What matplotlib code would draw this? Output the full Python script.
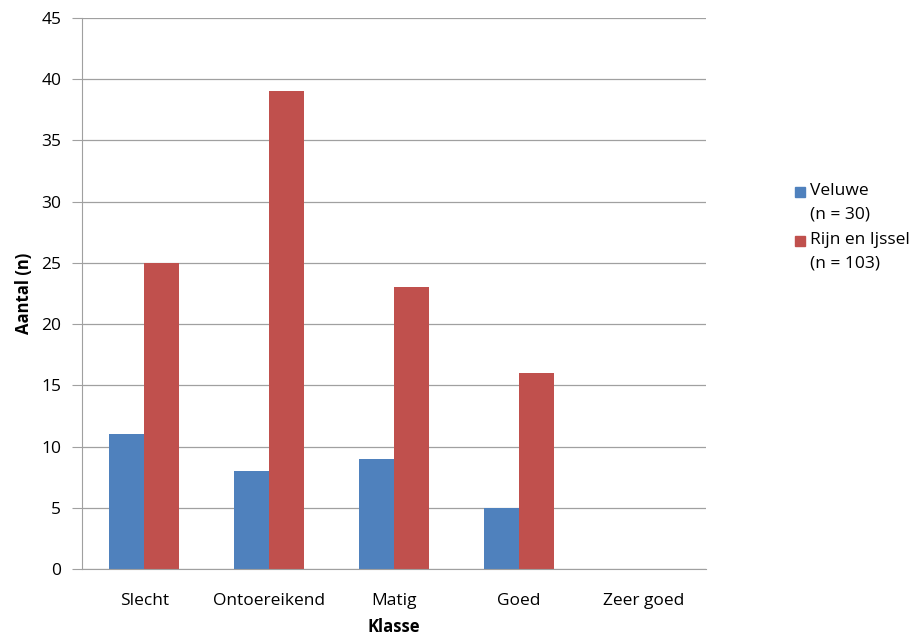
import matplotlib
matplotlib.use("Agg")
import matplotlib.pyplot as plt
from matplotlib.patches import Rectangle
import numpy as np

categories = ["Slecht", "Ontoereikend", "Matig", "Goed", "Zeer goed"]
veluwe = [11, 8, 9, 5, 0]
rijn_ijssel = [25, 39, 23, 16, 0]
series_labels = ["Veluwe\n(n = 30)", "Rijn en Ijssel\n(n = 103)"]
colors = ["#4F81BD", "#C0504D"]

plt.rcParams["font.family"] = ["Open Sans", "DejaVu Sans"]

W, H = 924, 638
fig = plt.figure(figsize=(W / 100, H / 100), dpi=100)
ax = fig.add_axes([82 / W, 1 - 569 / H, (706 - 82) / W, (569 - 18) / H])

x = np.arange(len(categories))
w = 0.28
ax.bar(x - w / 2, veluwe, w, color=colors[0])
ax.bar(x + w / 2, rijn_ijssel, w, color=colors[1])

ax.set_xlim(-0.5, len(categories) - 0.5)
ax.set_ylim(0, 45)
ax.set_yticks(range(0, 46, 5))
ax.set_xticks(x)
ax.set_xticklabels(categories)
ax.tick_params(axis="x", length=0, pad=17, labelsize=12.5)
ax.tick_params(axis="y", length=7, color="#A0A0A0", pad=8, labelsize=12.5)
ax.yaxis.grid(True, color="#A0A0A0", lw=0.9)
ax.set_axisbelow(True)
for s in ["top", "right"]:
    ax.spines[s].set_visible(False)
ax.spines["left"].set_color("#A0A0A0")
ax.spines["bottom"].set_color("#A0A0A0")

ax.set_ylabel("Aantal (n)", fontsize=12, fontweight="bold", labelpad=6)
ax.set_xlabel("Klasse", fontsize=12, fontweight="bold", labelpad=7)

# legend drawn by hand: swatch sits on the first line of each label
for i, (lab, col) in enumerate(zip(series_labels, colors)):
    y0 = 192 + i * 49
    fig.add_artist(Rectangle((795 / W, 1 - (y0 + 5) / H), 10 / W, 10 / H,
                             transform=fig.transFigure, color=col))
    fig.text(810 / W, 1 - (y0 - 9) / H, lab, ha="left", va="top",
             fontsize=12.5, linespacing=1.6)

fig.savefig("out.png", dpi=100)
